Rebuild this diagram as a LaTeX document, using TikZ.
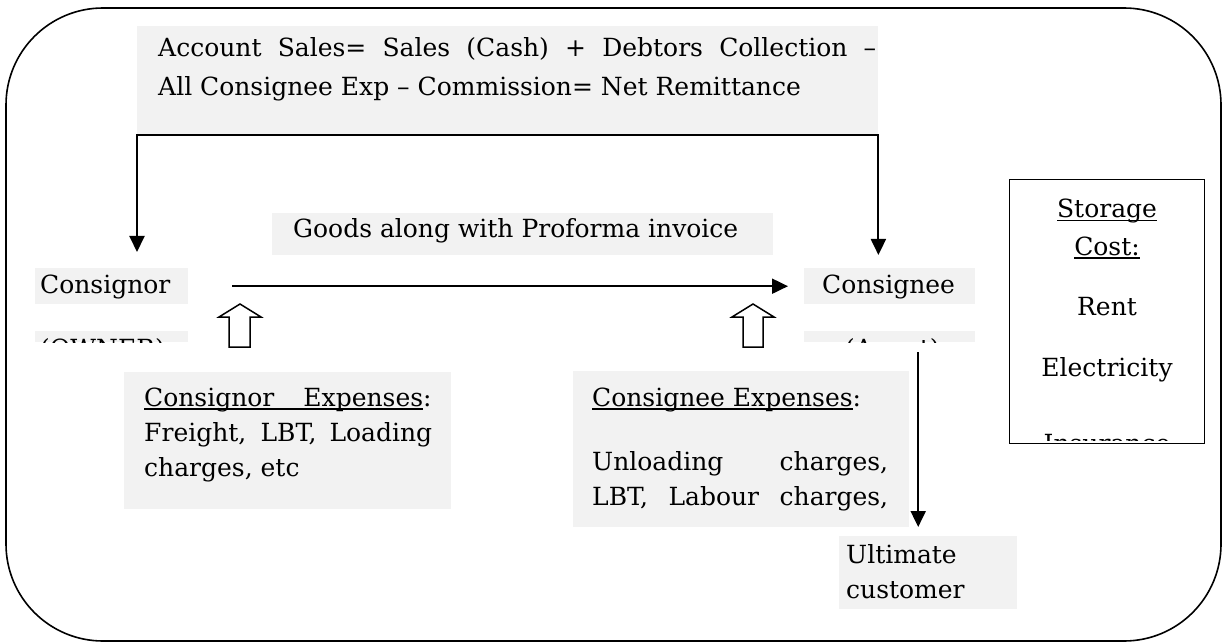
\documentclass[tikz,border=0pt]{standalone}
\usepackage{fontspec}
\setmainfont{DejaVu Serif}
\usetikzlibrary{arrows.meta}
\definecolor{boxgray}{HTML}{F2F2F2}
\newcommand\myul[1]{\leavevmode\setbox0\hbox{#1}\rlap{\rule[-3.5pt]{\wd0}{1.5pt}}\box0}
\begin{document}
\begin{tikzpicture}[x=1pt,y=-1pt,
  gbox/.style={fill=boxgray, draw=none, inner sep=0pt, anchor=north west},
  txt/.style={anchor=base west, inner sep=0pt, font=\fontsize{25}{30}\selectfont},
  ctxt/.style={anchor=base, inner sep=0pt, font=\fontsize{25}{30}\selectfont},
  arr/.style={line width=2pt, -{Triangle[length=16pt,width=15pt]}},
  arrb/.style={line width=2pt, {Triangle[length=16pt,width=15pt]}-{Triangle[length=16pt,width=15pt]}},
  blockarr/.style={draw, line width=1.5pt, fill=white, line join=miter},
]
\useasboundingbox (0,0) rectangle (1222,644);
% outer frame
\draw[line width=1.6pt, rounded corners=97pt] (6,8) rectangle (1221,641);

% top formula box
\node[gbox, minimum width=741pt, minimum height=109pt] (top) at (137,26) {};
\node[txt] (t1) at (158,57) {\makebox[718pt][s]{Account Sales= Sales (Cash) + Debtors Collection –}};
\node[txt] (t2) at (158,96) {All Consignee Exp – Commission= Net Remittance};

% goods box
\node[gbox, minimum width=501pt, minimum height=42pt] (goods) at (272,213) {};
\node[txt] (goodst) at (293,237) {Goods along with Proforma invoice};

% consignor
\node[gbox, minimum width=153pt, minimum height=36pt] (cons) at (35,268) {};
\node[txt] (const) at (40,293) {Consignor};
\node[gbox, minimum width=153pt, minimum height=11pt] (owner) at (35,331) {};
\begin{scope}
\clip (35,331) rectangle (188,342);
\node[txt] (ownert) at (40,357) {(OWNER)};
\end{scope}

% consignee
\node[gbox, minimum width=171pt, minimum height=36pt] (consg) at (804,268) {};
\node[txt] (consgt) at (822,293) {Consignee};
\node[gbox, minimum width=171pt, minimum height=11pt] (agent) at (804,331) {};
\begin{scope}
\clip (804,331) rectangle (975,342);
\node[txt] (agentt) at (845,357) {(Agent)};
\end{scope}

% storage cost
\node[draw, line width=1.4pt, fill=white, inner sep=0pt, anchor=north west,
      minimum width=195pt, minimum height=264pt] (store) at (1009,179) {};
\node[ctxt] (s1) at (1107,218) {\myul{Storage}};
\node[ctxt] (s2) at (1107,255) {\myul{Cost:}};
\node[ctxt] (s3) at (1107,315) {Rent};
\node[ctxt] (s4) at (1107,376) {Electricity};
\begin{scope}
\clip (1011,181) rectangle (1202,440);
\node[ctxt] (s5) at (1107,452) {Insurance};
\end{scope}

% consignor expenses
\node[gbox, minimum width=327pt, minimum height=137pt] (cexp) at (124,372) {};
\node[txt] (c1) at (144,406) {\myul{\makebox[279pt][s]{Consignor Expenses}}:};
\node[txt] (c2) at (144,441) {\makebox[288pt][s]{Freight, LBT, Loading}};
\node[txt] (c3) at (144,476) {charges, etc};

% consignee expenses
\node[gbox, minimum width=336pt, minimum height=156pt] (gexp) at (573,371) {};
\node[txt] (g1) at (592,406) {\myul{Consignee Expenses}:};
\node[txt] (g2) at (592,470) {\makebox[296pt][s]{Unloading charges,}};
\node[txt] (g3) at (592,505) {\makebox[296pt][s]{LBT, Labour charges,}};

% ultimate customer
\node[gbox, minimum width=178pt, minimum height=73pt] (ult) at (839,536) {};
\node[txt] (u1) at (846,563) {Ultimate};
\node[txt] (u2) at (846,598) {customer};

% connectors
\coordinate (tipL) at ([yshift=16pt]cons.north);
\coordinate (tipR) at ([yshift=13pt]consg.north);
\draw[arrb] (top.south west |- tipL) -- (top.south west) -- (top.south east) -- (top.south east |- tipR);
\draw[arr] ([xshift=44pt]cons.east) -- ([xshift=-16pt]consg.west);
\draw[arr] ([xshift=28.5pt,yshift=-10pt]agent.south) -- ([xshift=-10pt,yshift=9pt]ult.north);

% open block arrows
\draw[blockarr] (240,304) -- (261,317) -- (250,317) -- (250,347) -- (229,347) -- (229,317) -- (219,317) -- cycle;
\draw[blockarr] (753,304) -- (774,317) -- (763,317) -- (763,347) -- (743,347) -- (743,317) -- (732,317) -- cycle;
\end{tikzpicture}
\end{document}
